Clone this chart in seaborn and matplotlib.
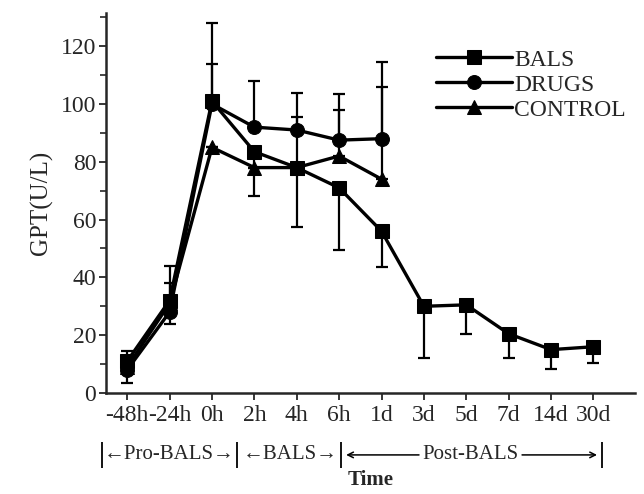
import numpy as np
import pandas as pd
import seaborn as sns
import matplotlib.pyplot as plt

times = ["-48h", "-24h", "0h", "2h", "4h", "6h", "1d", "3d", "5d", "7d", "14d", "30d"]

bals = [11, 32, 101, 83.5, 78, 71, 56, 30, 30.5, 20.5, 15, 16]
drugs = [8, 28, 100, 92, 91, 87.5, 88]
control = [9, 31, 85, 78, 78, 82, 74]

# one-sided error bars as drawn in the figure (0 = not drawn)
bals_lo = [0, 0, 0, 15.5, 20.5, 21.5, 12.5, 18, 10, 8.5, 6.7, 5.5]
bals_hi = [3.6, 12, 27, 0, 0, 0, 0, 0, 0, 0, 0, 0]
drugs_lo = [4.7, 4, 0, 0, 0, 0, 0]
drugs_hi = [0, 0, 14, 16, 12.7, 16, 26.5]
control_lo = [0, 0, 0, 0, 0, 0, 0]
control_hi = [0, 7, 0, 0, 17.6, 16, 32]

groups = {
    "BALS": (bals, bals_lo, bals_hi),
    "DRUGS": (drugs, drugs_lo, drugs_hi),
    "CONTROL": (control, control_lo, control_hi),
}
markers = {"BALS": "s", "DRUGS": "o", "CONTROL": "^"}

rows = []
for name, (vals, lo, hi) in groups.items():
    for i, v in enumerate(vals):
        rows.append({"pos": i, "GPT": v, "group": name, "lo": lo[i], "hi": hi[i]})
df = pd.DataFrame(rows)

sns.set_style("ticks")
plt.rcParams["font.family"] = ["Liberation Serif", "DejaVu Serif"]

fig = plt.figure(figsize=(6.44, 4.94), dpi=100)
ax = fig.add_axes([0.1646, 0.2045, 0.8214, 0.7692])

# error bars under the markers
for name in groups:
    d = df[df.group == name]
    ax.errorbar(d.pos, d.GPT, yerr=[d.lo, d.hi], fmt="none", ecolor="black",
                elinewidth=1.6, capsize=4, capthick=1.6, zorder=1)

sns.lineplot(data=df, x="pos", y="GPT", style="group", markers=markers,
             dashes=False, color="black", linewidth=2.4, markersize=10,
             markeredgecolor="black", ax=ax, zorder=3)

ax.set_xlim(-0.5, 11.98)
ax.set_ylim(0, 131.5)
ax.set_xticks(range(len(times)))
ax.set_xticklabels(times, fontsize=17)
ax.set_yticks(range(0, 121, 20))
ax.set_yticks(range(10, 131, 20), minor=True)
ax.tick_params(axis="y", labelsize=17, length=5, width=1.3, pad=2)
ax.tick_params(axis="y", which="minor", length=4, width=1.2)
ax.tick_params(axis="x", length=5, width=1.3, pad=4)
for s in ["left", "bottom"]:
    ax.spines[s].set_linewidth(1.8)
sns.despine(ax=ax)

ax.set_ylabel("GPT(U/L)", fontsize=18, labelpad=6)
ax.set_xlabel("Time", fontsize=15, fontweight="bold", labelpad=31)

leg = ax.legend(loc="upper right", bbox_to_anchor=(1.0, 0.93), frameon=False,
                fontsize=17, handlelength=3.2, handletextpad=0.1,
                labelspacing=0.15, borderaxespad=0)
for h in leg.legend_handles:
    h.set_linewidth(2.4)

# period brackets under the time axis
tr = ax.get_xaxis_transform()
yb = -0.163
ax.vlines([-0.6, 2.6, 5.05, 11.2], yb - 0.035, yb + 0.035, transform=tr,
          color="black", lw=1.3, clip_on=False)
ax.text(1.0, yb, "\u2190Pro-BALS\u2192", transform=tr, ha="center", va="center",
        fontsize=15)
ax.text(3.85, yb, "\u2190BALS\u2192", transform=tr, ha="center", va="center",
        fontsize=15)
ax.text(8.1, yb, "Post-BALS", transform=tr, ha="center", va="center", fontsize=15)
ax.annotate("", xy=(5.1, yb), xytext=(6.95, yb), xycoords=tr, textcoords=tr,
            arrowprops=dict(arrowstyle="->", lw=1.1, color="black"))
ax.annotate("", xy=(11.15, yb), xytext=(9.25, yb), xycoords=tr, textcoords=tr,
            arrowprops=dict(arrowstyle="->", lw=1.1, color="black"))

fig.savefig("out.png", dpi=100)
